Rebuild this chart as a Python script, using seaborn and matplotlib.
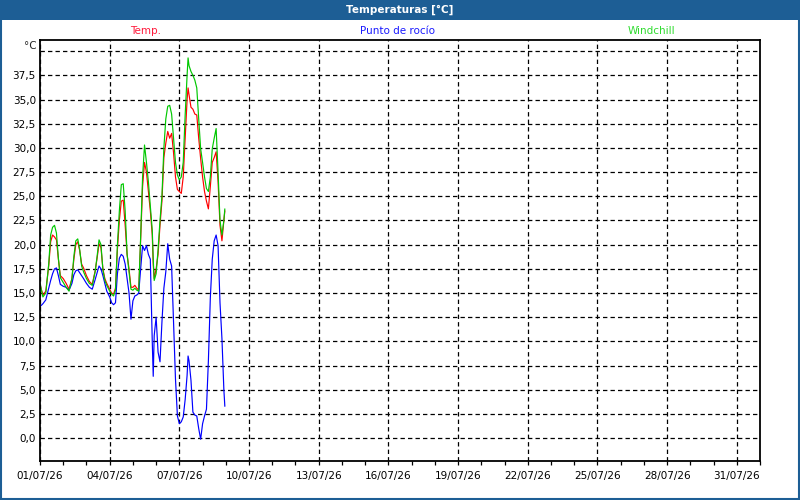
import pandas as pd
import numpy as np
import matplotlib
matplotlib.use("Agg")
import matplotlib.pyplot as plt
import matplotlib.dates as mdates
import matplotlib.ticker as mticker
from matplotlib.patches import Rectangle
import seaborn as sns

# horas desde 01/07/26 00:00
horas = [0, 3, 6, 9, 11, 13, 15, 17, 19, 21, 24,
         27, 30, 33, 35, 37, 39, 41, 43, 45, 48,
         51, 54, 57, 59, 61, 63, 65, 67, 69, 72,
         74, 76, 78, 80, 82, 84, 86, 88, 90, 92, 94, 96,
         98, 100, 102, 104, 106, 108, 110, 112, 114, 116, 117, 118, 120,
         122, 124, 126, 128, 130, 132, 134, 136, 138, 140, 142, 144,
         146, 148, 150, 152, 153, 154, 156, 158, 160, 162, 164, 166, 168,
         170, 172, 174, 176, 178, 180, 182, 184, 186, 188, 190, 191]

temp = [15.9, 14.8, 15.2, 17.8, 20.3, 21.0, 20.8, 20.5, 18.5, 16.8, 16.5,
        16.0, 15.4, 16.5, 18.5, 20.0, 20.3, 19.4, 18.0, 17.6, 16.8,
        16.2, 15.9, 17.3, 18.6, 20.1, 19.7, 17.5, 16.5, 16.0, 15.4,
        15.0, 14.9, 15.5, 19.5, 22.5, 24.5, 24.6, 22.0, 19.0, 17.5, 15.6, 15.6,
        15.8, 15.5, 15.3, 20.5, 26.0, 28.5, 27.5, 25.5, 23.5, 21.0, 18.0, 16.5, 17.5,
        19.0, 22.0, 24.5, 29.0, 30.5, 31.7, 31.0, 31.5, 29.5, 27.0, 25.7, 25.5,
        25.3, 27.0, 31.0, 35.0, 36.2, 35.5, 34.2, 34.0, 33.5, 33.4, 31.0, 28.9, 27.0,
        25.5, 24.5, 23.7, 26.0, 28.5, 29.0, 29.6, 26.5, 22.0, 20.4, 22.5, 23.5]

rocio = [13.6, 13.9, 14.3, 15.5, 16.3, 17.0, 17.5, 17.6, 16.8, 15.9, 15.7,
         15.6, 15.3, 16.0, 16.9, 17.3, 17.4, 17.1, 16.8, 16.5, 16.0,
         15.6, 15.4, 16.4, 17.1, 17.8, 17.5, 16.8, 16.0, 15.2, 14.6,
         14.0, 13.8, 14.0, 17.0, 18.6, 19.0, 18.8, 18.0, 16.5, 15.0, 12.3, 14.2,
         14.7, 14.8, 15.0, 17.5, 19.9, 19.4, 19.9, 19.0, 18.5, 10.0, 6.4, 10.6, 12.5,
         8.9, 7.9, 12.0, 15.5, 17.2, 20.1, 18.5, 17.8, 12.0, 6.1, 2.3, 1.5,
         1.7, 2.2, 4.0, 6.5, 8.5, 8.0, 6.0, 2.7, 2.4, 2.3, 1.0, -0.1, 1.5,
         2.3, 3.0, 8.0, 14.5, 18.5, 20.4, 21.0, 19.9, 14.0, 10.3, 5.0, 3.3]

windchill = [16.0, 14.6, 15.0, 18.0, 21.0, 21.8, 22.0, 21.2, 18.6, 16.6, 16.1,
             15.6, 15.2, 16.5, 18.8, 20.4, 20.6, 19.5, 17.8, 17.2, 16.5,
             16.0, 15.8, 17.2, 18.8, 20.5, 20.0, 17.4, 16.3, 15.8, 15.2,
             14.9, 14.7, 15.3, 20.0, 23.5, 26.2, 26.3, 23.5, 19.0, 17.2, 15.4, 15.3,
             15.5, 15.3, 15.2, 20.8, 27.0, 30.3, 28.5, 26.5, 24.0, 21.5, 18.5, 16.3, 17.0,
             19.5, 22.5, 25.0, 30.0, 33.0, 34.3, 34.4, 33.5, 31.0, 28.5, 27.2, 26.7,
             27.0, 28.5, 33.4, 37.5, 39.3, 38.5, 37.9, 37.5, 37.0, 36.2, 33.0, 29.9, 28.5,
             27.0, 25.8, 25.5, 27.0, 29.9, 31.0, 32.0, 27.5, 22.5, 21.0, 22.5, 23.7]

series = ["Temp.", "Punto de rocío", "Windchill"]
colores = {"Temp.": "#ff0000", "Punto de rocío": "#0000ff", "Windchill": "#00c800"}
colores_txt = {"Temp.": "#ff1a3c", "Punto de rocío": "#1a1aff", "Windchill": "#2edc2e"}

dias_etiqueta = ["2026-07-%02d" % d for d in range(1, 32, 3)]

inicio = pd.Timestamp("2026-07-01")
tiempos = inicio + pd.to_timedelta(horas, unit="h")
df = pd.DataFrame({"fecha": tiempos, "Temp.": temp,
                   "Punto de rocío": rocio, "Windchill": windchill})
df = df.melt(id_vars="fecha", var_name="serie", value_name="valor")

sns.set_style("white")
plt.rcParams["font.family"] = ["DejaVu Sans"]

fig = plt.figure(figsize=(8, 5), dpi=100)
fig.patch.set_facecolor("white")
ax = fig.add_axes([40 / 800, 39 / 500, 720 / 800, 421 / 500])

sns.lineplot(data=df, x="fecha", y="valor", hue="serie", hue_order=series,
             palette=colores, linewidth=0.85, legend=False, ax=ax)

ax.set_xlim(inicio, pd.Timestamp("2026-08-01"))
ax.set_ylim(-2.35, 41.15)
ax.set_xlabel("")
ax.set_ylabel("")

ax.yaxis.set_major_locator(mticker.MultipleLocator(2.5))
ax.yaxis.set_major_formatter(mticker.FuncFormatter(
    lambda v, p: "" if v > 39 else f"{v:.1f}".replace(".", ",")))
ax.xaxis.set_major_locator(mticker.FixedLocator(mdates.date2num(pd.to_datetime(dias_etiqueta))))
ax.xaxis.set_minor_locator(mdates.DayLocator())
ax.xaxis.set_major_formatter(mdates.DateFormatter("%d/%m/%y"))

ax.grid(True, which="major", color="black", linestyle=(0, (3.5, 2.5)), linewidth=0.9)
ax.tick_params(axis="y", length=0, pad=3, labelsize=7.5, colors="black")
ax.tick_params(axis="x", which="both", direction="out", length=3, width=0.9,
               pad=4, labelsize=7.5, colors="black", bottom=True)
for s in ax.spines.values():
    s.set_color("black")
    s.set_linewidth(1.3)

ax.text(-0.005, 0.985, "°C", transform=ax.transAxes, ha="right", va="center",
        fontsize=7.5)

# barra de titulo
fig.patches.append(Rectangle((0, 480 / 500), 1, 20 / 500, transform=fig.transFigure,
                             facecolor="#1d5e95", edgecolor="none", zorder=0))
fig.patches.append(Rectangle((0.001, 0.002), 0.998, 0.996, transform=fig.transFigure,
                             facecolor="none", edgecolor="#1d5e95", linewidth=1.5))
fig.text(0.5, 490 / 500, "Temperaturas [°C]", ha="center", va="center",
         color="white", fontsize=7.5, fontweight="bold")

for nombre, xpos in zip(series, [146, 398, 651]):
    fig.text(xpos / 800, 469 / 500, nombre, ha="center", va="center",
             color=colores_txt[nombre], fontsize=7.5)

fig.savefig("out.png", dpi=100)
